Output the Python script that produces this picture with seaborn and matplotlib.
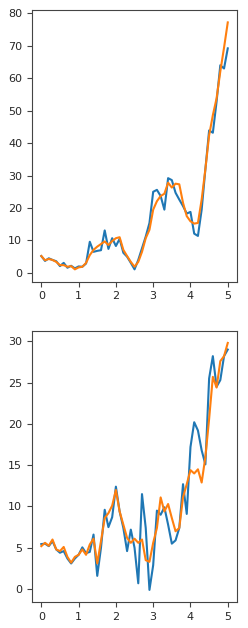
import numpy as np
import matplotlib
matplotlib.use("Agg")
import matplotlib.pyplot as plt
import seaborn as sns

# x positions: 0.0 to 5.0 in steps of 0.1
x = np.round(np.arange(51) / 10, 1)

# top panel: raw series and its smoothed version
top_raw = [5.2, 3.7, 4.5, 4.0, 3.6, 2.1, 3.1, 1.6, 2.2, 1.4,
           2.0, 1.9, 2.9, 9.6, 6.5, 6.8, 7.0, 13.1, 7.4, 10.7,
           8.3, 10.5, 6.2, 5.0, 3.1, 1.1, 4.0, 7.6, 11.2, 15.4,
           25.0, 25.6, 23.7, 19.5, 29.2, 28.6, 24.7, 22.6, 20.6, 18.3,
           18.8, 12.1, 11.4, 19.5, 32.0, 43.9, 43.2, 52.8, 64.0, 63.0,
           69.2]
top_smooth = [5.2, 3.9, 4.3, 4.0, 3.4, 2.4, 2.4, 1.9, 2.1, 1.1,
              1.7, 1.9, 3.1, 5.5, 7.1, 8.1, 8.9, 9.7, 8.6, 9.8,
              10.7, 11.0, 7.1, 5.2, 3.4, 1.9, 3.4, 6.5, 10.7, 13.3,
              19.5, 22.1, 23.7, 24.4, 27.8, 26.3, 27.5, 27.3, 21.6, 17.5,
              15.9, 15.2, 15.4, 22.6, 32.0, 42.4, 48.6, 53.8, 62.1, 69.4,
              77.2]

# bottom panel
bot_raw = [5.45, 5.5, 5.2, 5.8, 4.8, 4.4, 4.6, 3.7, 3.1, 3.7,
           4.15, 5.05, 4.35, 4.5, 6.6, 1.6, 5.0, 9.6, 7.5, 8.7,
           12.4, 9.4, 7.4, 4.6, 7.2, 5.0, 0.7, 11.5, 7.4, -0.1,
           2.9, 9.5, 9.0, 9.9, 7.8, 5.5, 5.9, 7.4, 12.7, 9.1,
           17.2, 20.2, 19.2, 16.8, 15.1, 25.5, 28.2, 24.5, 25.3, 28.2,
           29.0]
bot_smooth = [5.2, 5.6, 5.25, 6.0, 4.8, 4.6, 5.1, 3.9, 3.2, 3.9,
              4.15, 4.8, 4.15, 5.4, 6.1, 3.1, 5.8, 8.6, 9.2, 10.1,
              12.0, 9.4, 7.8, 6.2, 5.6, 6.1, 5.6, 6.0, 3.5, 3.3,
              5.6, 7.4, 11.1, 9.4, 10.3, 8.6, 7.0, 7.4, 11.1, 12.7,
              14.4, 14.0, 14.5, 12.9, 16.0, 20.6, 25.7, 24.4, 27.6, 28.2,
              29.8]

fig, axes = plt.subplots(2, 1, figsize=(2.48, 6.28), dpi=100)
fig.subplots_adjust(left=0.129, right=0.956, top=0.984, bottom=0.041, hspace=0.18)

sns.lineplot(x=x, y=top_raw, ax=axes[0], color='#1f77b4')
sns.lineplot(x=x, y=top_smooth, ax=axes[0], color='#ff7f0e')

sns.lineplot(x=x, y=bot_raw, ax=axes[1], color='#1f77b4')
sns.lineplot(x=x, y=bot_smooth, ax=axes[1], color='#ff7f0e')

for ax in axes:
    ax.tick_params(labelsize=8, labelcolor='#262626', color='#444444')
    ax.set_xticks([0, 1, 2, 3, 4, 5])
    for sp in ax.spines.values():
        sp.set_color('#444444')

plt.savefig("out.png", dpi=100)
